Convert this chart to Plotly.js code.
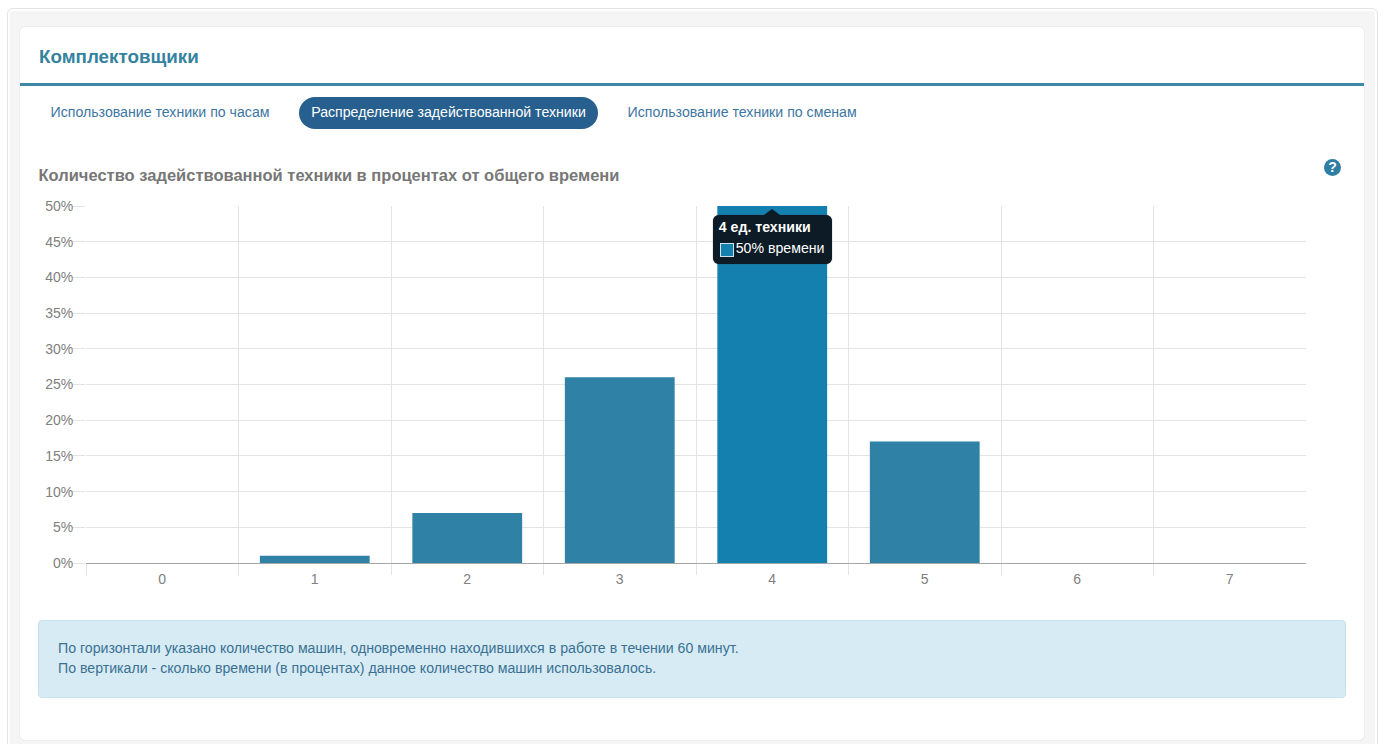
<!DOCTYPE html>
<html lang="ru"><head><meta charset="utf-8">
<script src="https://cdn.plot.ly/plotly-3.0.1.min.js"></script>
<style>
html,body{margin:0;padding:0;background:#fff;width:1384px;height:744px;overflow:hidden;font-family:"Liberation Sans",Arial,sans-serif}
.abs{position:absolute;white-space:nowrap}
#outer{left:7px;top:8px;width:1369px;height:760px;border:1px solid #e3e3e3;border-radius:6px;background:#f5f5f5;box-shadow:inset 0 0 0 2px #fff}
#card{left:19px;top:26px;width:1344px;height:713px;background:#fff;border:1px solid #ececec;border-radius:6px}
#hr{left:20px;top:83px;width:1344px;height:3px;background:#3d88a7}
#h{left:39px;top:47px;font-size:18.8px;line-height:20px;font-weight:bold;color:#35829f}
.tab{top:97px;height:32px;line-height:31px;font-size:14.15px;color:#3e76a3}
#pill{left:299px;width:299px;background:#27608e;border-radius:16px;color:#fff;text-align:center}
#sub{left:38.5px;top:166px;font-size:16.5px;line-height:19px;font-weight:bold;color:#777}
#help{left:1324px;top:159px;width:17px;height:17px;border-radius:50%;background:#2e7fa3;color:#fff;font-size:14px;font-weight:bold;line-height:17px;text-align:center}
#chart{left:0;top:190px;width:1384px;height:410px}
#alert{left:38px;top:620px;width:1306px;height:76px;background:#d7ebf5;border:1px solid #c6e3ee;border-radius:4px;color:#3a7192;font-size:14.15px;line-height:20px}
#alert div{position:absolute;left:19px}
#tip{background:#0c1b25;border-radius:6px;color:#fff;font-size:14.15px;width:119px;height:49px;box-sizing:border-box;box-shadow:0 0 1px #333}
#tip:before{content:"";position:absolute;left:51px;top:-6px;border-left:8px solid transparent;border-right:8px solid transparent;border-bottom:6px solid #0c1b25}
#tip .t{position:absolute;left:6px;top:4px;font-weight:bold;line-height:16px}
#tip .s{position:absolute;left:7px;top:28px;width:12px;height:12px;border:1px solid #cfe3ec}
#tip .v{position:absolute;left:23px;top:25px;line-height:16px}
</style></head><body>
<div class="abs" id="outer"></div>
<div class="abs" id="card"></div>
<div class="abs" id="hr"></div>
<div class="abs" id="h">Комплектовщики</div>
<div class="abs tab" style="left:50.5px">Использование техники по часам</div>
<div class="abs tab" id="pill">Распределение задействованной техники</div>
<div class="abs tab" style="left:627.5px">Использование техники по сменам</div>
<div class="abs" id="sub">Количество задействованной техники в процентах от общего времени</div>
<div class="abs" id="help">?</div>
<div class="abs" id="chart"></div>
<div class="abs" id="alert"><div style="top:17px">По горизонтали указано количество машин, одновременно находившихся в работе в течении 60 минут.</div><div style="top:37px">По вертикали - сколько времени (в процентах) данное количество машин использовалось.</div></div>
<div class="abs" id="tip"><div class="t"></div><div class="s"></div><div class="v"></div></div>
<script>
const categories = [0, 1, 2, 3, 4, 5, 6, 7];
const percentValues = [0, 1, 7, 26, 50, 17, 0, 0];
const categoryBoundaries = [-0.5, 0.5, 1.5, 2.5, 3.5, 4.5, 5.5, 6.5];
const yTicks = [0, 5, 10, 15, 20, 25, 30, 35, 40, 45, 50];
const hoveredCategory = 4;
const barColor = '#2f82a5';
const hoverColor = '#1380b0';

const trace = {
  type: 'bar', x: categories, y: percentValues, width: 0.72,
  marker: {color: categories.map(c => c === hoveredCategory ? hoverColor : barColor), line: {width: 0}},
  hoverinfo: 'skip'
};
const layout = {
  width: 1384, height: 410,
  margin: {l: 85.75, r: 78, t: 16, b: 37},
  paper_bgcolor: 'rgba(0,0,0,0)', plot_bgcolor: 'rgba(0,0,0,0)',
  font: {family: '"Liberation Sans", Arial, sans-serif', size: 14, color: '#808080'},
  showlegend: false,
  bargap: 0.28,
  xaxis: {
    type: 'linear', range: [-0.5, 7.5], tickmode: 'array', tickvals: categories, ticktext: categories.map(String),
    showgrid: false, zeroline: false, showline: true, linecolor: '#a6a6a6', linewidth: 1,
    ticks: '', tickfont: {size: 14, color: '#808080'}, ticklabelstandoff: 3,
    minor: {tickmode: 'array', tickvals: categoryBoundaries, showgrid: true, gridcolor: '#e4e4e4', gridwidth: 1, ticks: 'outside', ticklen: 11, tickcolor: '#e4e4e4', tickwidth: 1}
  },
  yaxis: {
    range: [0, 50], tickmode: 'array', tickvals: yTicks, ticktext: yTicks.map(v => v + '%'),
    showgrid: true, gridcolor: '#e4e4e4', gridwidth: 1, zeroline: false, showline: false,
    ticks: 'outside', ticklen: 13, tickcolor: '#e4e4e4', tickwidth: 1, tickfont: {size: 14, color: '#808080'}, ticklabelstandoff: -4
  }
};
Plotly.newPlot('chart', [trace], layout, {displayModeBar: false, staticPlot: true}).then(gd => {
  const fl = gd._fullLayout;
  const value = percentValues[categories.indexOf(hoveredCategory)];
  const px = fl.xaxis._offset + fl.xaxis.l2p(hoveredCategory);
  const py = fl.yaxis._offset + fl.yaxis.l2p(value) + 190;
  const tip = document.getElementById('tip');
  tip.style.left = (px - 59.5) + 'px';
  tip.style.top = (py + 8.5) + 'px';
  tip.querySelector('.t').textContent = hoveredCategory + ' ед. техники';
  tip.querySelector('.s').style.background = hoverColor;
  tip.querySelector('.v').textContent = value + '% времени';
});
</script>
</body></html>
